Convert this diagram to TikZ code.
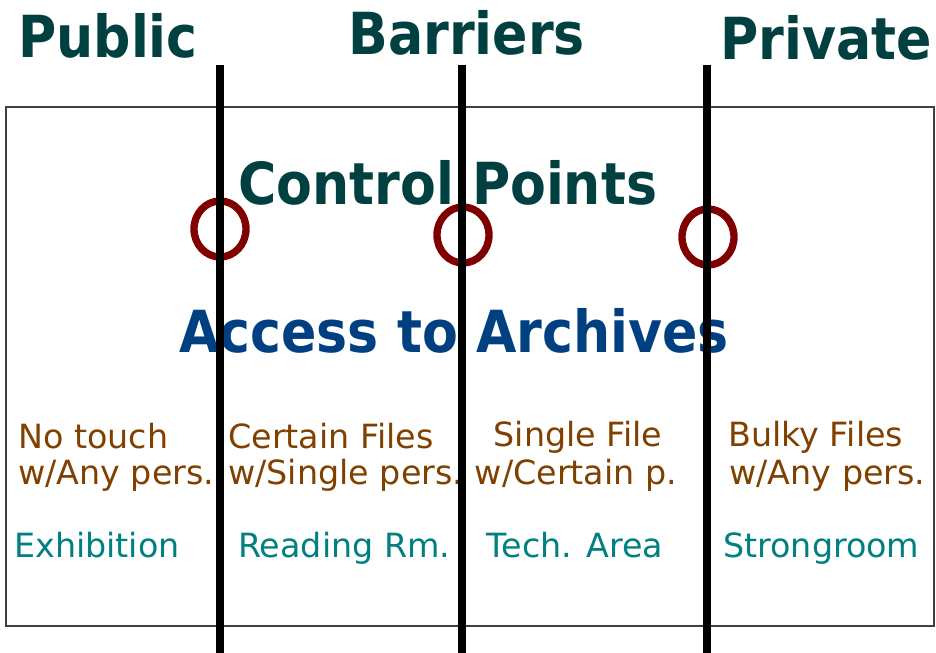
\documentclass[tikz,border=0pt]{standalone}
\usepackage{fontspec}
\setmainfont{DejaVu Sans}
\newfontfamily\headfont{DejaVu Sans Condensed}
\usetikzlibrary{shapes}
\definecolor{headteal}{RGB}{0,64,64}
\definecolor{accessblue}{RGB}{0,64,128}
\definecolor{rulebrown}{RGB}{128,64,0}
\definecolor{roomteal}{RGB}{0,128,128}
\definecolor{ctrlred}{RGB}{128,0,0}
\tikzstyle{heading} = [font=\headfont\bfseries\fontsize{43.5}{50}\selectfont, text=headteal, anchor=base west, inner sep=0pt]
\tikzstyle{rule} = [font=\fontsize{25}{29}\selectfont, text=rulebrown, anchor=base west, inner sep=0pt]
\tikzstyle{room} = [font=\fontsize{25}{29}\selectfont, text=roomteal, anchor=base west, inner sep=0pt]
\tikzstyle{control} = [draw=ctrlred, ellipse, line width=5.5pt, inner sep=0pt, minimum width=39pt, minimum height=42pt]
\tikzstyle{barrier} = [draw, line width=5.75pt]
\tikzstyle{frame} = [draw=black!75, line width=1.5pt]

\begin{document}
\begin{tikzpicture}[x=0.75pt, y=-0.75pt]
					\useasboundingbox (0,0) rectangle (936,653);
					\path [frame] (6,107) rectangle (934,626);
					% headings
					\node [heading] (public) at (18,57) {Public};
					\node [heading] (barriers) at (348,54) {Barriers};
					\node [heading, anchor=base east] (private) at (932,59) {Private};
					\node [heading] (control) at (238,204) {Control Points};
					\node [heading, anchor=base, text=accessblue] (access) at (454,352) {Access to Archives};
					% zones
					\node [rule] (touch) at (18,448) {No touch};
					\node [rule] (anyone) at (18,484) {w/Any pers.};
					\node [room] (exhibition) at (14,557) {Exhibition};
					\node [rule] (certain) at (228,448) {Certain Files};
					\node [rule] (single) at (228,484) {w/Single pers.};
					\node [room] (reading) at (238,557) {Reading Rm.};
					\node [rule, anchor=base] (onefile) at (578,446) {Single File};
					\node [rule, anchor=base] (certainp) at (576,484) {w/Certain p.};
					\node [room, anchor=base] (tech) at (575,557) {Tech. Area};
					\node [rule] (bulky) at (728,446) {Bulky Files};
					\node [rule] (anyone2) at (729,484) {w/Any pers.};
					\node [room] (strongroom) at (723,557) {Strongroom};
					% control points
					\node [control] (cp1) at (220,229) {};
					\node [control] (cp2) at (463,235) {};
					\node [control] (cp3) at (708,237) {};
					% barriers
					\coordinate (b1top) at (220,65);
					\coordinate (b1bot) at (220,653);
					\coordinate (b2top) at (462,65);
					\coordinate (b2bot) at (462,653);
					\coordinate (b3top) at (707,65);
					\coordinate (b3bot) at (707,653);
					\path [barrier] (b1top) -- (b1bot);
					\path [barrier] (b2top) -- (b2bot);
					\path [barrier] (b3top) -- (b3bot);
				\end{tikzpicture}
\end{document}
